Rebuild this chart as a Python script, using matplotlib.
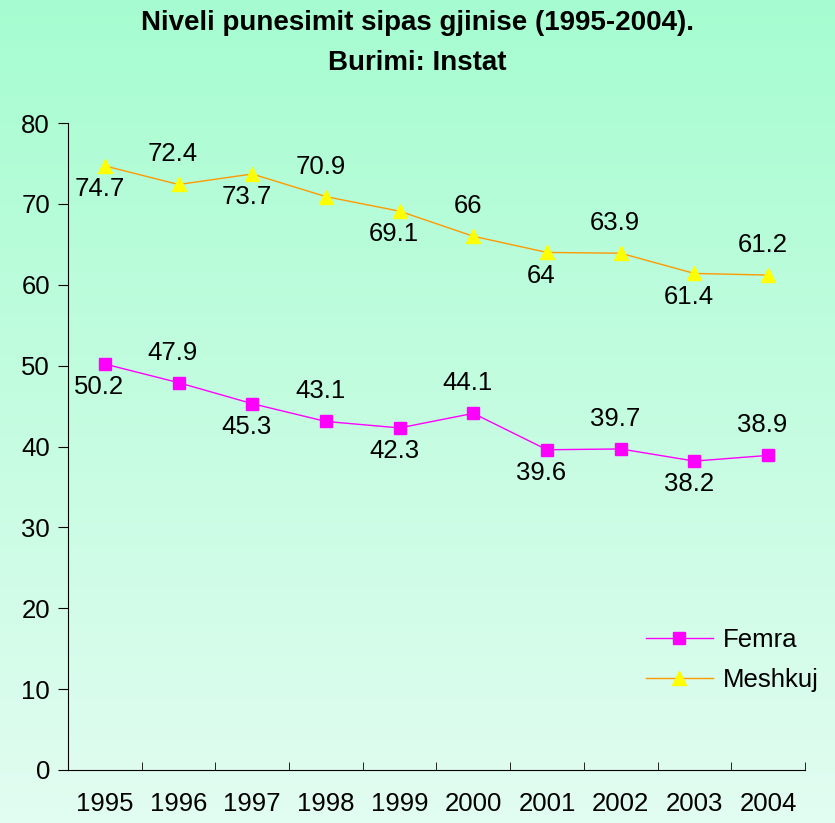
import numpy as np
import matplotlib.pyplot as plt
from matplotlib.colors import LinearSegmentedColormap

# dados
anos = ['1995', '1996', '1997', '1998', '1999', '2000', '2001', '2002', '2003', '2004']
femra = [50.2, 47.9, 45.3, 43.1, 42.3, 44.1, 39.6, 39.7, 38.2, 38.9]
meshkuj = [74.7, 72.4, 73.7, 70.9, 69.1, 66, 64, 63.9, 61.4, 61.2]

plt.rcParams['font.family'] = ['Liberation Sans', 'DejaVu Sans']

fig = plt.figure(figsize=(8.35, 8.23), dpi=100)

# fundo em gradiente
bg = fig.add_axes([0, 0, 1, 1], zorder=-10)
cmap = LinearSegmentedColormap.from_list('bg', ['#a6fcd0', '#e2fdf1'])
bg.imshow(np.linspace(0, 1, 256).reshape(-1, 1), aspect='auto', cmap=cmap,
          extent=[0, 1, 0, 1])
bg.axis('off')

ax = fig.add_axes([0.0814, 0.0644, 0.8826, 0.7861])
ax.patch.set_alpha(0)

x = np.arange(len(anos))
ax.plot(x, femra, color='#ff00ff', lw=1, marker='s', ms=8,
        mfc='#ff00ff', mec='#ff00ff', label='Femra')
ax.plot(x, meshkuj, color='#ff9900', lw=1, marker='^', ms=10,
        mfc='#ffff00', mec='#ffff00', label='Meshkuj')

# rotulos alternados (abaixo / acima)
for serie in (femra, meshkuj):
    for i, v in enumerate(serie):
        txt = f'{v:g}'
        if i % 2 == 0:
            ax.annotate(txt, (i, v), xytext=(-4, -8), textcoords='offset points',
                        ha='center', va='top', fontsize=18.5)
        else:
            ax.annotate(txt, (i, v), xytext=(-4, 13), textcoords='offset points',
                        ha='center', va='bottom', fontsize=18.5)

ax.set_xlim(-0.5, len(anos) - 0.5)
ax.set_ylim(0, 80)
ax.set_yticks(range(0, 81, 10))
ax.set_xticks(x)
ax.set_xticklabels(anos)
ax.set_xticks(np.arange(-0.5, len(anos), 1), minor=True)
ax.tick_params(axis='x', which='major', length=0, pad=16, labelsize=18.5)
ax.tick_params(axis='x', which='minor', length=6, direction='in')
ax.tick_params(axis='y', length=7, direction='out', labelsize=18.5, pad=6)
ax.spines['top'].set_visible(False)
ax.spines['right'].set_visible(False)

fig.suptitle('Niveli punesimit sipas gjinise (1995-2004).\nBurimi: Instat',
             fontsize=20, fontweight='bold', y=0.988, linespacing=1.7)

ax.legend(loc='lower right', bbox_to_anchor=(1.05, 0.085), frameon=False,
          fontsize=18.5, handlelength=2.6, handletextpad=0.4, labelspacing=0.6)

plt.savefig('out.png', dpi=100)
